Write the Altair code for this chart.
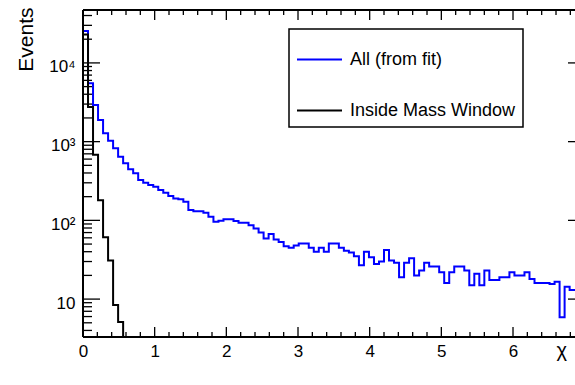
import altair as alt
import pandas as pd

# ---------------- data ----------------
BIN_W = 0.07  # histogram bin width in chi units

all_fit = [25500, 5520, 2920, 1880, 1276, 1028, 822, 644, 531, 445,
           396, 326, 301, 281, 268, 243, 225, 204, 190, 186,
           173, 135, 131, 131, 125, 111, 96, 99, 103, 103,
           98, 93, 93, 87, 79, 70, 59, 67, 57, 53,
           47, 45, 48, 51, 51, 45, 40, 45, 40, 51,
           51, 45, 41, 39, 35, 27, 40, 34, 28, 30,
           42, 31, 29, 19, 29, 33, 20, 23, 29, 26,
           26, 22, 16, 22, 26, 26, 23, 15, 21, 15,
           23, 17.5, 17.5, 19, 19, 22, 20, 20, 22, 18,
           16, 16, 16, 15.5, 16.6, 5.9, 14.3, 13, 13]
inside_window = [23000, 2750, 680, 180, 61, 31, 8.4, 5.1]

series_names = ["All (from fit)", "Inside Mass Window"]
series_colors = ["#0000ff", "#000000"]

x_major = [0, 1, 2, 3, 4, 5, 6]
x_minor = [0.2, 0.4, 0.6, 0.8, 1.2, 1.4, 1.6, 1.8, 2.2, 2.4, 2.6, 2.8,
           3.2, 3.4, 3.6, 3.8, 4.2, 4.4, 4.6, 4.8, 5.2, 5.4, 5.6, 5.8,
           6.2, 6.4, 6.6, 6.8]
y_major = [10, 100, 1000, 10000]
y_minor = [4, 5, 6, 7, 8, 9, 20, 30, 40, 50, 60, 70, 80, 90,
           200, 300, 400, 500, 600, 700, 800, 900,
           2000, 3000, 4000, 5000, 6000, 7000, 8000, 9000,
           20000, 30000, 40000]

# ---------------- layout ----------------
W, H = 492, 327
XMAX = 6.865
YMIN, YMAX = 3.3, 47000
FONT = "Liberation Sans"


def step_frame(vals, name, tail):
    xs = [round(i * BIN_W, 4) for i in range(len(vals) + 1)]
    vs = list(vals) + [tail]
    return pd.DataFrame({"x": xs, "v": vs, "series": name})


blue_df = step_frame(all_fit, series_names[0], all_fit[-1])
black_df = step_frame(inside_window, series_names[1], 1)

xs = alt.Scale(domain=[0, XMAX], nice=False, zero=False)
ys = alt.Scale(type="log", domain=[YMIN, YMAX], nice=False)
cs = alt.Scale(domain=series_names, range=series_colors)

xaxis = alt.Axis(values=x_major, format="d", ticks=False, tickSize=0, domain=False,
                 grid=False, labelFont=FONT, labelFontSize=17, labelColor="black",
                 labelPadding=6, labelBaseline="top", labelFlush=False,
                 title="χ", titleFont=FONT, titleFontSize=20, titleFontWeight="normal",
                 titleColor="black", titleX=473, titleY=3, titleAlign="left",
                 titleBaseline="top", titleAnchor="start")
yaxis = alt.Axis(values=y_major,
                 labelExpr="datum.value == 10 ? '10' : datum.value == 100 ? '10²' : datum.value == 1000 ? '10³' : '10⁴'",
                 ticks=False, tickSize=0, domain=False, grid=False,
                 labelFont=FONT, labelFontSize=17, labelColor="black",
                 labelPadding=8, labelOffset=4, labelFlush=False,
                 title="Events", titleFont=FONT, titleFontSize=21,
                 titleFontWeight="normal", titleColor="black",
                 titleAngle=270, titleAlign="right", titleBaseline="alphabetic",
                 titleX=-51, titleY=-3, titleAnchor="end")

legend = alt.Legend(orient="none", legendX=206, legendY=19, title=None,
                    fillColor="white", strokeColor="black", padding=7,
                    symbolType="stroke", symbolSize=2025, symbolStrokeWidth=2,
                    labelFont=FONT, labelFontSize=18, labelColor="black",
                    labelOffset=7, rowPadding=18, labelLimit=400)

X = lambda f: alt.X(f, scale=xs, axis=xaxis)
Y = lambda f: alt.Y(f, scale=ys, axis=yaxis)

blue = alt.Chart(blue_df).mark_line(interpolate="step-after", strokeWidth=2, clip=True).encode(
    x=X("x:Q"), y=Y("v:Q"),
    color=alt.Color("series:N", scale=cs, legend=legend),
)
black = alt.Chart(black_df).mark_line(interpolate="step-after", strokeWidth=2, clip=True).encode(
    x=X("x:Q"), y=Y("v:Q"),
    color=alt.Color("series:N", scale=cs, legend=legend),
)

ymaj_df = pd.DataFrame({"v": y_major})
ymin_df = pd.DataFrame({"v": y_minor})
xmaj_df = pd.DataFrame({"x": x_major})
xmin_df = pd.DataFrame({"x": x_minor})

tick = dict(color="black", strokeWidth=1.3)


def yticks(df, x0, x1):
    return alt.Chart(df).mark_rule(**tick).encode(
        y=Y("v:Q"), x=alt.value(x0), x2=alt.value(x1))


def xticks(df, y0, y1):
    return alt.Chart(df).mark_rule(**tick).encode(
        x=X("x:Q"), y=alt.value(y0), y2=alt.value(y1))


frame_df = pd.DataFrame({"a": [0]})
frame = dict(color="black", strokeWidth=2)
left_line = alt.Chart(frame_df).mark_rule(**frame).encode(
    x=alt.value(0), y=alt.value(0), y2=alt.value(H))
top_line = alt.Chart(frame_df).mark_rule(**frame).encode(
    y=alt.value(0), x=alt.value(0), x2=alt.value(W))
bottom_line = alt.Chart(frame_df).mark_rule(**frame).encode(
    y=alt.value(H), x=alt.value(0), x2=alt.value(W))

layers = [
    blue, black,
    yticks(ymaj_df, 0, 17), yticks(ymin_df, 0, 9), yticks(ymaj_df, W - 7, W),
    xticks(xmaj_df, H - 10, H), xticks(xmin_df, H - 5, H),
    xticks(xmaj_df, 0, 10), xticks(xmin_df, 0, 5),
    left_line, top_line, bottom_line,
]

chart = alt.layer(*layers).properties(
    width=W, height=H,
    autosize=alt.AutoSizeParams(type="none"),
    padding={"left": 83, "top": 10, "right": 0, "bottom": 48},
    background="white",
).configure_view(stroke=None).configure_legend(strokeWidth=1.5)

chart.save("out.html", embed_options={"renderer": "svg", "actions": False})
